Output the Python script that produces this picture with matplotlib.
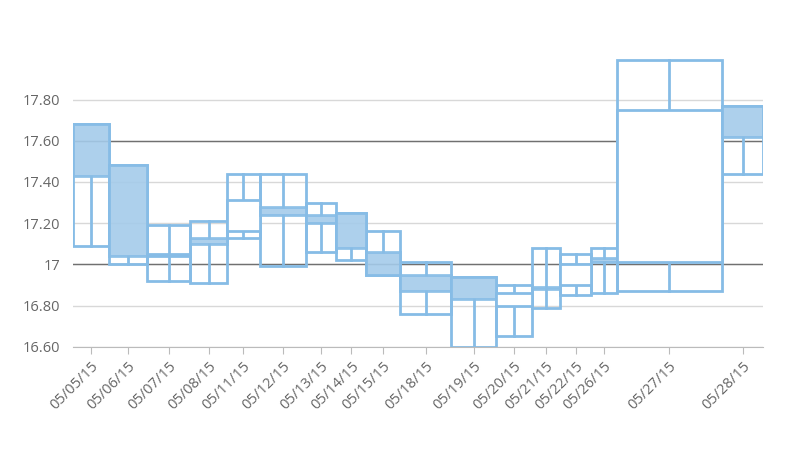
import numpy as np
import matplotlib
matplotlib.use("Agg")
import matplotlib.pyplot as plt
from matplotlib.patches import Rectangle

# dane: data, open/high/low/close, wolumen (szerokosc pudelka)
dates = ["05/05/15", "05/06/15", "05/07/15", "05/08/15", "05/11/15", "05/12/15",
         "05/13/15", "05/14/15", "05/15/15", "05/18/15", "05/19/15", "05/20/15",
         "05/21/15", "05/22/15", "05/26/15", "05/27/15", "05/28/15"]
opens = [17.68, 17.48, 17.04, 17.13, 17.16, 17.28, 17.24, 17.25, 17.06, 16.95,
         16.94, 16.80, 16.89, 16.90, 17.03, 17.01, 17.77]
highs = [17.68, 17.48, 17.19, 17.21, 17.44, 17.44, 17.30, 17.25, 17.16, 17.01,
         16.94, 16.90, 17.08, 17.05, 17.08, 17.99, 17.77]
lows = [17.09, 17.00, 16.92, 16.91, 17.13, 16.99, 17.06, 17.02, 16.95, 16.76,
        16.60, 16.65, 16.79, 16.85, 16.86, 16.87, 17.44]
closes = [17.43, 17.04, 17.05, 17.10, 17.31, 17.24, 17.20, 17.08, 16.95, 16.87,
          16.83, 16.86, 16.88, 17.00, 17.01, 17.75, 17.62]
volumes = [35.6, 38.4, 43.3, 36.7, 32.6, 46.4, 30.3, 30.3, 33.7, 51.0,
           45.0, 35.7, 28.3, 31.0, 25.7, 105.0, 41.6]

y_ticks = [16.6, 16.8, 17.0, 17.2, 17.4, 17.6, 17.8]
y_labels = ["16.60", "16.80", "17", "17.20", "17.40", "17.60", "17.80"]
ref_lines = [17.0, 17.6]

edge = "#86bce6"
fill = "#a4cbea"
txt = "#666666"

plt.rcParams['font.family'] = ['Open Sans', 'DejaVu Sans']

fig = plt.figure(figsize=(8, 4.5), dpi=100)
ax = fig.add_axes([73 / 800, 1 - 346.7 / 450, 690.3 / 800, 288.4 / 450])

vol = np.array(volumes)
starts = np.concatenate([[0], np.cumsum(vol)[:-1]])
centers = starts + vol / 2

for y in y_ticks:
	ax.axhline(y, color="#d8d8d8", lw=1, zorder=0)
for y in ref_lines:
	ax.axhline(y, color="#707070", lw=1, zorder=0.5)

for i in range(len(dates)):
	x0, w = starts[i], vol[i]
	o, h, l, c = opens[i], highs[i], lows[i], closes[i]
	top, bot = max(o, c), min(o, c)
	# obrys high-low
	ax.add_patch(Rectangle((x0, l), w, h - l, facecolor="none", edgecolor=edge, lw=2, zorder=2))
	# knoty
	ax.plot([centers[i], centers[i]], [top, h], color=edge, lw=2, zorder=2)
	ax.plot([centers[i], centers[i]], [l, bot], color=edge, lw=2, zorder=2)
	# korpus (spadek wypelniony, wzrost bialy)
	if c < o:
		ax.add_patch(Rectangle((x0, bot), w, top - bot, facecolor=fill, alpha=0.9,
		                       edgecolor=edge, lw=2, zorder=3))
	else:
		ax.add_patch(Rectangle((x0, bot), w, top - bot, facecolor="white",
		                       edgecolor=edge, lw=2, zorder=3))

ax.set_xlim(0, vol.sum())
ax.set_ylim(16.6, 18.0)
ax.set_yticks(y_ticks)
ax.set_yticklabels(y_labels)
ax.set_xticks(centers)
ax.set_xticklabels(dates, rotation=45, ha="right", rotation_mode="anchor")

for s in ["top", "right", "left"]:
	ax.spines[s].set_visible(False)
ax.spines["bottom"].set_color("#bbbbbb")
ax.tick_params(axis="y", length=0, labelsize=10.5, labelcolor=txt, pad=9)
ax.tick_params(axis="x", length=5, color="#bbbbbb", labelsize=10.5, labelcolor=txt, pad=4)

fig.savefig("out.png", dpi=100)
